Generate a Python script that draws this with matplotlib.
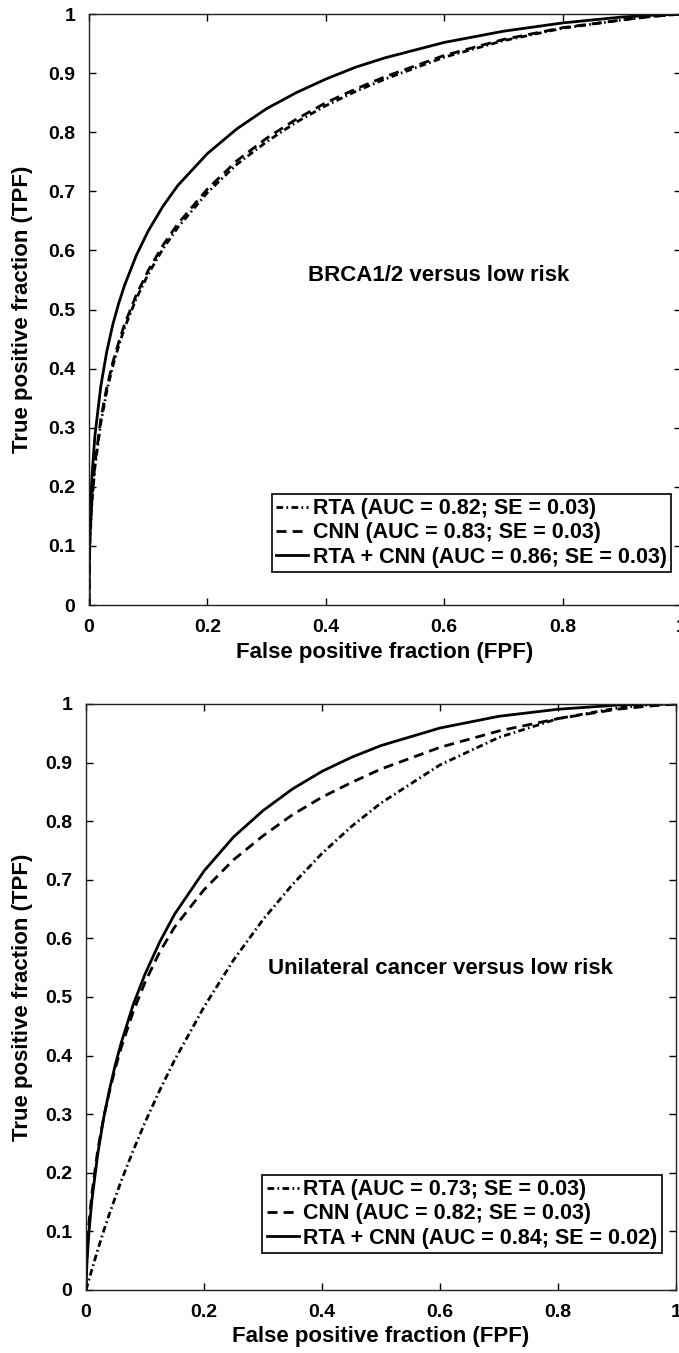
import matplotlib.pyplot as plt

plt.rcParams['font.family'] = ['Liberation Sans', 'DejaVu Sans']
plt.rcParams['font.weight'] = 'bold'

# false positive fraction grid shared by all curves
fpf = [0, 0.001, 0.002, 0.005, 0.01, 0.02, 0.03, 0.04, 0.05, 0.06, 0.08, 0.1,
       0.125, 0.15, 0.2, 0.25, 0.3, 0.35, 0.4, 0.45, 0.5, 0.6, 0.7, 0.8, 0.9,
       0.95, 1.0]

# BRCA1/2 versus low risk
brca_rta = [0, 0.086, 0.117, 0.174, 0.234, 0.309, 0.362, 0.404, 0.438, 0.469,
            0.519, 0.560, 0.603, 0.639, 0.698, 0.746, 0.784, 0.817, 0.845,
            0.869, 0.890, 0.927, 0.955, 0.976, 0.990, 0.996, 1.0]
brca_cnn = [0, 0.090, 0.122, 0.180, 0.240, 0.315, 0.368, 0.410, 0.444, 0.475,
            0.525, 0.566, 0.609, 0.645, 0.704, 0.752, 0.790, 0.822, 0.850,
            0.873, 0.894, 0.930, 0.957, 0.977, 0.990, 0.996, 1.0]
brca_combo = [0, 0.111, 0.149, 0.218, 0.287, 0.371, 0.429, 0.474, 0.510, 0.541,
              0.592, 0.633, 0.675, 0.710, 0.764, 0.806, 0.840, 0.867, 0.890,
              0.910, 0.926, 0.952, 0.971, 0.985, 0.995, 0.998, 1.0]
brca_labels = ['RTA (AUC = 0.82; SE = 0.03)',
               'CNN (AUC = 0.83; SE = 0.03)',
               'RTA + CNN (AUC = 0.86; SE = 0.03)']

# unilateral cancer versus low risk
uni_rta = [0, 0.003, 0.007, 0.018, 0.035, 0.069, 0.101, 0.131, 0.159, 0.187,
           0.238, 0.286, 0.341, 0.392, 0.483, 0.563, 0.632, 0.692, 0.745,
           0.791, 0.831, 0.896, 0.943, 0.975, 0.993, 0.998, 1.0]
uni_cnn = [0, 0.045, 0.070, 0.115, 0.165, 0.240, 0.295, 0.340, 0.380, 0.415,
           0.475, 0.525, 0.577, 0.619, 0.683, 0.734, 0.775, 0.811, 0.841,
           0.866, 0.889, 0.926, 0.954, 0.975, 0.991, 0.996, 1.0]
uni_combo = [0, 0.033, 0.054, 0.099, 0.154, 0.233, 0.294, 0.343, 0.386, 0.423,
             0.487, 0.539, 0.594, 0.641, 0.715, 0.773, 0.818, 0.855, 0.885,
             0.909, 0.929, 0.959, 0.979, 0.991, 0.998, 0.9995, 1.0]
uni_labels = ['RTA (AUC = 0.73; SE = 0.03)',
              'CNN (AUC = 0.82; SE = 0.03)',
              'RTA + CNN (AUC = 0.84; SE = 0.02)']

ticks = [0, 0.2, 0.4, 0.6, 0.8, 1]
tick_labels = ['0', '0.2', '0.4', '0.6', '0.8', '1']
yticks = [0, 0.1, 0.2, 0.3, 0.4, 0.5, 0.6, 0.7, 0.8, 0.9, 1]
ytick_labels = ['0', '0.1', '0.2', '0.3', '0.4', '0.5', '0.6', '0.7', '0.8', '0.9', '1']

dashdot = (2.4, 1.2, 0.6, 1.2)
dashed = (3.6, 2.2)


def draw_panel(ax, rta, cnn, combo, labels, note, note_xy, leg_anchor, ylab_x):
    lw = 2.0
    ax.plot(fpf, cnn, color='black', lw=lw, dashes=dashed, label=labels[1])
    ax.plot(fpf, rta, color='black', lw=lw, dashes=dashdot, label=labels[0])
    ax.plot(fpf, combo, color='black', lw=lw, ls='-', label=labels[2])
    ax.set_xlim(0, 1)
    ax.set_ylim(0, 1)
    ax.set_xticks(ticks)
    ax.set_xticklabels(tick_labels)
    ax.set_yticks(yticks)
    ax.set_yticklabels(ytick_labels)
    ax.tick_params(direction='in', length=5, width=1, top=True, right=True,
                   labelsize=14, pad=10)
    for s in ax.spines.values():
        s.set_linewidth(1.0)
        s.set_color('#222222')
    ax.set_xlabel('False positive fraction (FPF)', fontsize=16, fontweight='bold')
    ax.set_ylabel('True positive fraction (TPF)', fontsize=16, fontweight='bold',
                  va='center')
    ax.yaxis.set_label_coords(ylab_x, 0.5)
    ax.text(note_xy[0], note_xy[1], note, fontsize=16, fontweight='bold',
            ha='center', va='center', transform=ax.transAxes)
    h, l = ax.get_legend_handles_labels()
    order = [1, 0, 2]
    leg = ax.legend([h[i] for i in order], [l[i] for i in order],
                    loc='lower right', bbox_to_anchor=leg_anchor,
                    fontsize=15.5, frameon=True, fancybox=False,
                    edgecolor='black', framealpha=1, handlelength=1.5,
                    handletextpad=0.2, borderpad=0.2, labelspacing=0.15,
                    borderaxespad=0)
    leg.get_frame().set_linewidth(1.2)


fig = plt.figure(figsize=(6.79, 13.53), dpi=100)
ax1 = fig.add_axes([0.1311, 0.5528, 0.8719, 0.4368])
ax2 = fig.add_axes([0.1267, 0.0466, 0.8689, 0.4331])

draw_panel(ax1, brca_rta, brca_cnn, brca_combo, brca_labels,
           'BRCA1/2 versus low risk', (0.59, 0.558), (0.983, 0.056), -0.113)
draw_panel(ax2, uni_rta, uni_cnn, uni_combo, uni_labels,
           'Unilateral cancer versus low risk', (0.60, 0.549), (0.976, 0.063), -0.108)

fig.savefig('out.png', dpi=100)
